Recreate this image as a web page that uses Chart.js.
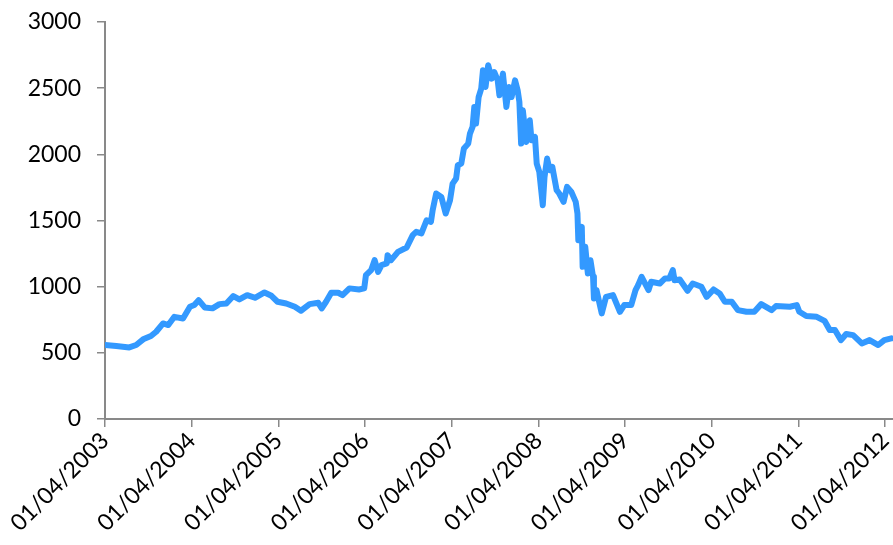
<!DOCTYPE html>
<html>
<head>
<meta charset="utf-8">
<script src="https://cdn.jsdelivr.net/npm/chart.js@4/dist/chart.umd.min.js"></script>
<style>
  html, body { margin: 0; padding: 0; background: #fff; }
  #wrap { width: 893px; height: 545px; }
</style>
</head>
<body>
<div id="wrap"><canvas id="chart"></canvas></div>
<script>
// x positions as decimal years (2003.00 = 01/04/2003)
const years = [
  2003.00, 2003.13, 2003.28, 2003.36, 2003.44, 2003.53, 2003.59, 2003.67, 2003.73, 2003.80,
  2003.90, 2003.98, 2004.03, 2004.08, 2004.15, 2004.24, 2004.32, 2004.40, 2004.48, 2004.55,
  2004.64, 2004.73, 2004.84, 2004.92, 2004.99, 2005.09, 2005.19, 2005.26, 2005.36, 2005.46,
  2005.50, 2005.55, 2005.61, 2005.69, 2005.74, 2005.82, 2005.93, 2005.99, 2006.01, 2006.07,
  2006.11, 2006.15, 2006.19, 2006.25, 2006.26, 2006.30, 2006.38, 2006.48, 2006.55, 2006.59,
  2006.65, 2006.71, 2006.76, 2006.78, 2006.82, 2006.88, 2006.93, 2006.98, 2007.01, 2007.05,
  2007.07, 2007.11, 2007.14, 2007.19, 2007.21, 2007.24, 2007.26, 2007.28, 2007.31, 2007.34,
  2007.36, 2007.39, 2007.42, 2007.46, 2007.49, 2007.53, 2007.55, 2007.59, 2007.63, 2007.66,
  2007.69, 2007.73, 2007.76, 2007.78, 2007.80, 2007.82, 2007.86, 2007.90, 2007.92, 2007.96,
  2007.98, 2008.01, 2008.05, 2008.07, 2008.10, 2008.13, 2008.16, 2008.21, 2008.24, 2008.29,
  2008.33, 2008.38, 2008.43, 2008.45, 2008.46, 2008.50, 2008.51, 2008.54, 2008.57, 2008.60,
  2008.63, 2008.64, 2008.67, 2008.73, 2008.78, 2008.86, 2008.94, 2008.99, 2009.07, 2009.12,
  2009.15, 2009.19, 2009.27, 2009.30, 2009.40, 2009.46, 2009.51, 2009.55, 2009.57, 2009.63,
  2009.72, 2009.78, 2009.88, 2009.94, 2010.02, 2010.09, 2010.15, 2010.23, 2010.30, 2010.40,
  2010.49, 2010.57, 2010.69, 2010.74, 2010.90, 2010.98, 2011.01, 2011.09, 2011.21, 2011.30,
  2011.36, 2011.42, 2011.49, 2011.55, 2011.63, 2011.73, 2011.82, 2011.92, 2011.99, 2012.07
];
const values = [
  559, 551, 541, 559, 602, 627, 659, 722, 710, 772,
  760, 848, 861, 898, 843, 836, 868, 873, 929, 904,
  936, 916, 956, 931, 886, 873, 848, 818, 868, 878,
  836, 886, 954, 954, 936, 987, 979, 987, 1087, 1125,
  1200, 1112, 1163, 1176, 1238, 1200, 1263, 1296, 1389, 1414,
  1402, 1502, 1490, 1578, 1704, 1678, 1553, 1653, 1779, 1817,
  1918, 1930, 2044, 2081, 2157, 2207, 2358, 2232, 2433, 2497,
  2635, 2509, 2673, 2572, 2622, 2559, 2446, 2610, 2358, 2509,
  2433, 2559, 2484, 2396, 2081, 2333, 2094, 2257, 2107, 2131,
  1930, 1867, 1616, 1829, 1968, 1880, 1905, 1729, 1704, 1641,
  1754, 1716, 1641, 1553, 1351, 1452, 1150, 1301, 1100, 1200,
  1074, 911, 974, 798, 923, 936, 810, 861, 861, 974,
  1012, 1074, 974, 1037, 1024, 1062, 1062, 1125, 1049, 1054,
  969, 1024, 999, 923, 979, 949, 886, 886, 823, 810,
  810, 868, 823, 853, 848, 861, 810, 778, 772, 742,
  672, 672, 596, 642, 634, 571, 596, 559, 596, 609
];
const tickYears = [2003, 2004, 2005, 2006, 2007, 2008, 2009, 2010, 2011, 2012];
const tickLabels = [
  '01/04/2003', '01/04/2004', '01/04/2005', '01/04/2006', '01/04/2007',
  '01/04/2008', '01/04/2009', '01/04/2010', '01/04/2011', '01/04/2012'
];

const axisColor = '#898989';
const font = { family: 'Lato, "Open Sans", sans-serif', size: 23 };

new Chart(document.getElementById('chart'), {
  type: 'line',
  data: {
    datasets: [{
      data: years.map((y, i) => ({ x: y, y: values[i] })),
      borderColor: '#3399ff',
      borderWidth: 6,
      borderJoinStyle: 'round',
      borderCapStyle: 'round',
      pointRadius: 0,
      tension: 0,
      fill: false
    }]
  },
  options: {
    responsive: true,
    maintainAspectRatio: false,
    animation: false,
    layout: { padding: { top: 22, right: 0, left: 0, bottom: 0 } },
    plugins: { legend: { display: false }, tooltip: { enabled: false } },
    scales: {
      x: {
        type: 'linear',
        min: 2003,
        max: 2012.09,
        afterBuildTicks: axis => { axis.ticks = tickYears.map(v => ({ value: v })); },
        afterFit: axis => {
          axis.height = 126;
          axis.paddingLeft = 0;
          axis.paddingRight = 0;
        },
        ticks: {
          color: '#000',
          font: font,
          minRotation: 45,
          maxRotation: 45,
          padding: 0,
          autoSkip: false,
          callback: (v) => tickLabels[tickYears.indexOf(v)]
        },
        grid: { drawOnChartArea: false, drawTicks: true, tickLength: 8, color: axisColor, lineWidth: 1.5 },
        border: { color: axisColor, width: 2 }
      },
      y: {
        min: 0,
        max: 3000,
        afterFit: axis => {
          axis.width = 105;
          axis.paddingTop = 0;
          axis.paddingBottom = 0;
        },
        ticks: { stepSize: 500, color: '#000', font: font, padding: 16, callback: v => String(v) },
        grid: { drawOnChartArea: false, drawTicks: true, tickLength: 8, color: axisColor, lineWidth: 1.5 },
        border: { color: axisColor, width: 2 }
      }
    }
  }
});
</script>
</body>
</html>
